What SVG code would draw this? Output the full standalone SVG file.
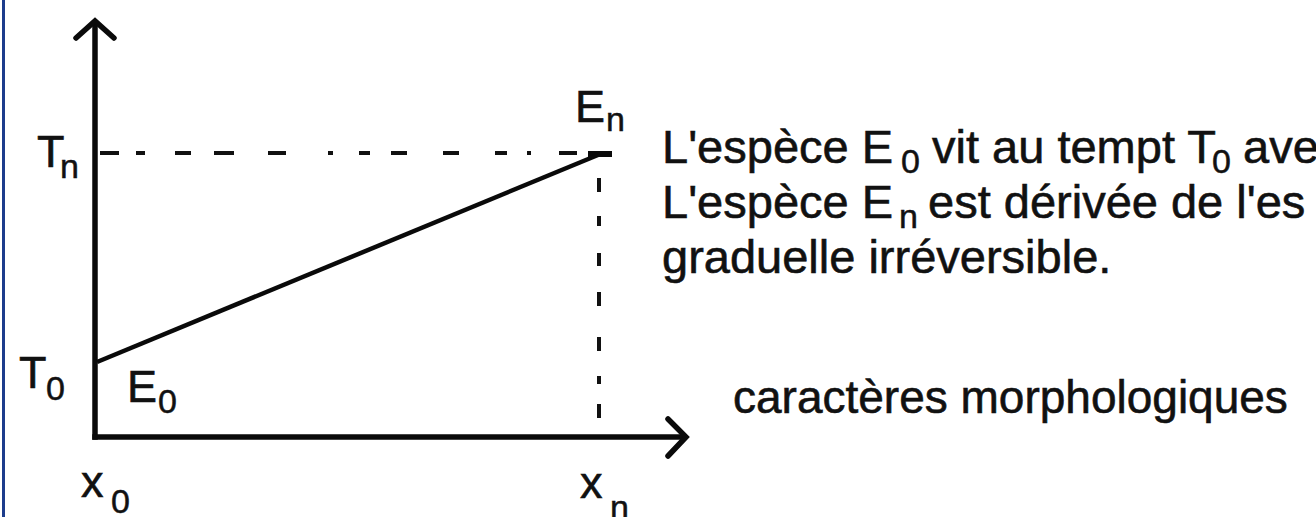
<svg xmlns="http://www.w3.org/2000/svg" width="1316" height="517" viewBox="0 0 1316 517">
<style>
.t{font-family:"Liberation Sans",Arial,sans-serif;fill:#111;stroke:#111;stroke-width:0.6px;font-size:47px}
.lab{font-family:"Liberation Sans",Arial,sans-serif;fill:#111;stroke:#111;stroke-width:0.6px;font-size:45px}
.sub{font-family:"Liberation Sans",Arial,sans-serif;fill:#111;stroke:#111;stroke-width:0.5px;font-size:34px}
.ax{stroke:#0a0a0a;fill:none;stroke-width:5.5;stroke-linecap:square}
.hd{stroke:#0a0a0a;fill:none;stroke-width:5.5;stroke-linecap:round;stroke-linejoin:miter}
.dash{stroke:#111;fill:none;stroke-width:4}
</style>
<rect x="0" y="0" width="1316" height="517" fill="#ffffff"/>
<line x1="3.5" y1="0" x2="3.5" y2="517" stroke="#1d3c8c" stroke-width="3"/>
<g id="connectors">
  <line class="ax" x1="95" y1="24" x2="95" y2="437"/>
  <path class="hd" d="M76,38 L95,21 L114,38"/>
  <line class="ax" x1="95" y1="437" x2="684" y2="437"/>
  <path class="hd" d="M668,419 L686,437 L668,456"/>
  <path class="dash" d="M100,153h19 M136,153h9 M175,153h16 M214,153h20 M268,153h18 M328,153h5 M359,153h11 M391,153h16 M443,153h16 M495,153h12 M527,153h4 M559,153h18"/>
  <line x1="588" y1="154" x2="612" y2="154" stroke="#0a0a0a" stroke-width="6"/>
  <line x1="97" y1="362" x2="598" y2="155" stroke="#0a0a0a" stroke-width="4.5"/>
  <path class="dash" d="M599,178v14 M599,216v10 M599,253v13 M599,292v14 M599,337v14 M599,376v8 M599,404v14" stroke-width="3.5"/>
</g>
<g id="label-Tn"><text class="lab" x="37" y="167">T</text><text class="sub" x="60" y="178">n</text></g>
<g id="label-T0"><text class="lab" x="19" y="388">T</text><text class="sub" x="46" y="400">0</text></g>
<g id="label-E0"><text class="lab" x="127" y="402">E</text><text class="sub" x="158" y="413">0</text></g>
<g id="label-En"><text class="lab" x="575" y="122">E</text><text class="sub" x="606" y="131">n</text></g>
<g id="label-x0"><text class="lab" x="81" y="497">x</text><text class="sub" x="111" y="513">0</text></g>
<g id="label-xn"><text class="lab" x="580" y="498">x</text><text class="sub" x="610" y="519">n</text></g>
<g id="description">
  <text class="t" x="662" y="163">L'espèce E</text><text class="sub" x="901" y="173">0</text>
  <text class="t" x="932" y="163">vit au tempt T</text><text class="sub" x="1212" y="173">0</text>
  <text class="t" x="1243" y="163">ave</text>
  <text class="t" x="662" y="218">L'espèce E</text><text class="sub" x="899" y="228">n</text>
  <text class="t" x="928" y="218">est dérivée de l'es</text>
  <text class="t" x="662" y="273">graduelle irréversible.</text>
</g>
<g id="axis-title"><text class="t" x="733" y="413" style="font-size:46px">caractères morphologiques</text></g>
</svg>
